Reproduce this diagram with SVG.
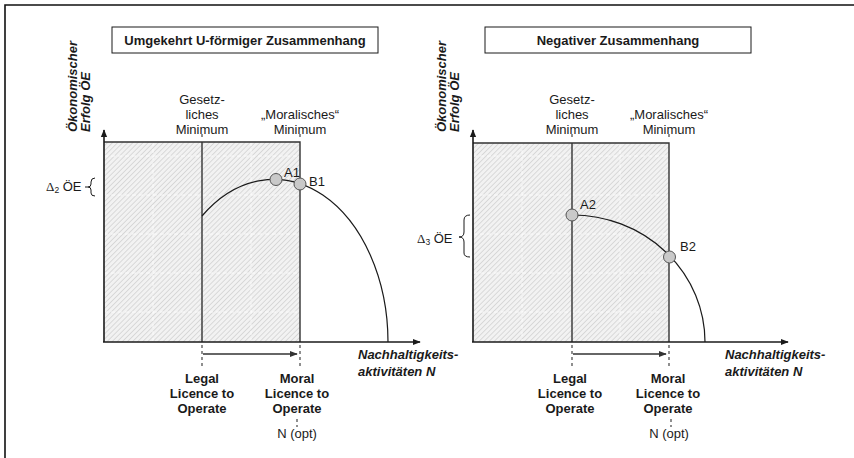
<svg xmlns="http://www.w3.org/2000/svg" width="854" height="458" viewBox="0 0 854 458">
  <style>
    .t { font-family: "Liberation Sans", Arial, sans-serif; fill: #1a1a1a; }
    .reg { font-size: 13px; }
    .bold { font-size: 13px; font-weight: bold; }
    .bi { font-size: 13px; font-weight: bold; font-style: italic; }
    .axis { stroke: #1a1a1a; stroke-width: 1.6; fill: none; }
    .edge { stroke: #333; stroke-width: 1.4; fill: none; }
    .curve { stroke: #1a1a1a; stroke-width: 1.2; fill: none; }
    .dash { stroke: #333; stroke-width: 1.1; stroke-dasharray: 3 3; fill: none; }
    .grid { stroke: #ffffff; stroke-width: 1; stroke-dasharray: 4 3; opacity: 0.8; }
    .pt { fill: #c9c9c9; stroke: #555; stroke-width: 1; }
    .brace { stroke: #1a1a1a; stroke-width: 1; fill: none; }
    .box { fill: #fff; stroke: #1a1a1a; stroke-width: 1; }
  </style>
  <defs>
    <pattern id="hatch" patternUnits="userSpaceOnUse" width="3.6" height="3.6" patternTransform="rotate(45)">
      <rect width="3.6" height="3.6" fill="#f2f2f2"/>
      <line x1="0" y1="0" x2="0" y2="3.6" stroke="#c4c4c4" stroke-width="1.1"/>
    </pattern>
    <marker id="ah" viewBox="0 0 10 10" refX="9" refY="5" markerWidth="8" markerHeight="8" markerUnits="userSpaceOnUse" orient="auto">
      <path d="M0,1 L10,5 L0,9 Z" fill="#1a1a1a"/>
    </marker>
    <marker id="ahs" viewBox="0 0 10 10" refX="9" refY="5" markerWidth="8" markerHeight="8" markerUnits="userSpaceOnUse" orient="auto">
      <path d="M0,1 L10,5 L0,9 Z" fill="#333"/>
    </marker>
  </defs>

  <!-- outer frame (top and left edges) -->
  <path d="M5 458 L5 5 L854 5" fill="none" stroke="#111" stroke-width="1.6"/>

  <!-- ===== left chart: inverted U ===== -->
  <g id="title-left">
    <rect class="box" x="112" y="27" width="266" height="26"/>
    <text class="t bold" x="245" y="45" text-anchor="middle">Umgekehrt U-förmiger Zusammenhang</text>
  </g>

  <g id="area-left">
    <rect x="104" y="142" width="196" height="200" fill="url(#hatch)"/>
    <g class="grid">
      <line x1="104" y1="156" x2="300" y2="156"/>
      <line x1="104" y1="195" x2="300" y2="195"/>
      <line x1="104" y1="234" x2="300" y2="234"/>
      <line x1="104" y1="273" x2="300" y2="273"/>
      <line x1="104" y1="312" x2="300" y2="312"/>
      <line x1="153" y1="142" x2="153" y2="342"/>
      <line x1="251" y1="142" x2="251" y2="342"/>
    </g>
    <path class="edge" d="M104 142 H300 V342"/>
    <line class="edge" x1="202" y1="142" x2="202" y2="342"/>
  </g>

  <g id="axes-left">
    <line class="axis" x1="104" y1="342" x2="104" y2="130" marker-end="url(#ah)"/>
    <line class="axis" x1="103" y1="342" x2="420" y2="342" marker-end="url(#ah)"/>
  </g>

  <g id="ylabel-left">
    <text class="t bi" transform="translate(77,132) rotate(-90)" font-size="11.3">Ökonomischer</text>
    <text class="t bi" transform="translate(90,132) rotate(-90)" font-size="11.3">Erfolg ÖE</text>
  </g>

  <g id="min-labels-left">
    <text class="t reg" text-anchor="middle" x="202" y="104">Gesetz-</text>
    <text class="t reg" text-anchor="middle" x="202" y="119">liches</text>
    <text class="t reg" text-anchor="middle" x="202" y="134">Minimum</text>
    <text class="t reg" text-anchor="middle" x="300" y="119">„Moralisches“</text>
    <text class="t reg" text-anchor="middle" x="300" y="134">Minimum</text>
    <line class="dash" x1="202" y1="134" x2="202" y2="140" stroke-dasharray="2 2"/>
    <line class="dash" x1="300" y1="134" x2="300" y2="140" stroke-dasharray="2 2"/>
  </g>

  <g id="curve-left">
    <path class="curve" d="M202 216 A114 163 0 0 1 388 342"/>
  </g>

  <g id="point-A1">
    <circle class="pt" cx="276" cy="179.5" r="6"/>
    <text class="t reg" x="284" y="177">A1</text>
  </g>
  <g id="point-B1">
    <circle class="pt" cx="300" cy="184" r="6"/>
    <text class="t reg" x="309" y="186">B1</text>
  </g>

  <g id="delta-left">
    <text class="t" font-size="13" x="46" y="191"><tspan font-family="Liberation Serif, serif">Δ</tspan><tspan font-size="8.5" dy="2">2</tspan><tspan dy="-2"> ÖE</tspan></text>
    <path class="brace" d="M85 187 H88"/>
    <path class="brace" d="M95 178 Q91 178 91 182 L91 184 Q91 187 88 187 Q91 187 91 190 L91 193 Q91 196 95 196"/>
  </g>

  <g id="licence-left">
    <line class="dash" x1="202" y1="345" x2="202" y2="366"/>
    <line class="dash" x1="300" y1="345" x2="300" y2="366"/>
    <line x1="203" y1="354" x2="297" y2="354" stroke="#333" stroke-width="1.3" marker-end="url(#ahs)"/>
    <text class="t bold" text-anchor="middle" x="202" y="383">Legal</text>
    <text class="t bold" text-anchor="middle" x="202" y="398">Licence to</text>
    <text class="t bold" text-anchor="middle" x="202" y="413">Operate</text>
    <text class="t bold" text-anchor="middle" x="297" y="383">Moral</text>
    <text class="t bold" text-anchor="middle" x="297" y="398">Licence to</text>
    <text class="t bold" text-anchor="middle" x="297" y="413">Operate</text>
    <line class="dash" x1="297" y1="419" x2="297" y2="427" stroke-dasharray="2 2"/>
    <text class="t reg" text-anchor="middle" x="297" y="438">N (opt)</text>
  </g>

  <g id="xlabel-left">
    <text class="t bi" x="358" y="359">Nachhaltigkeits-</text>
    <text class="t bi" x="358" y="376">aktivitäten N</text>
  </g>

  <!-- ===== right chart: negative relation ===== -->
  <g id="title-right">
    <rect class="box" x="485" y="27" width="266" height="26"/>
    <text class="t bold" x="618" y="45" text-anchor="middle">Negativer Zusammenhang</text>
  </g>

  <g id="area-right">
    <rect x="473" y="143" width="196" height="199" fill="url(#hatch)"/>
    <g class="grid">
      <line x1="473" y1="156" x2="669" y2="156"/>
      <line x1="473" y1="195" x2="669" y2="195"/>
      <line x1="473" y1="234" x2="669" y2="234"/>
      <line x1="473" y1="273" x2="669" y2="273"/>
      <line x1="473" y1="312" x2="669" y2="312"/>
      <line x1="522" y1="143" x2="522" y2="342"/>
      <line x1="620" y1="143" x2="620" y2="342"/>
    </g>
    <path class="edge" d="M473 143 H669 V342"/>
    <line class="edge" x1="572" y1="143" x2="572" y2="342"/>
  </g>

  <g id="axes-right">
    <line class="axis" x1="473" y1="342" x2="473" y2="130" marker-end="url(#ah)"/>
    <line class="axis" x1="472" y1="342" x2="788" y2="342" marker-end="url(#ah)"/>
  </g>

  <g id="ylabel-right">
    <text class="t bi" transform="translate(446,132) rotate(-90)" font-size="11.3">Ökonomischer</text>
    <text class="t bi" transform="translate(459,132) rotate(-90)" font-size="11.3">Erfolg ÖE</text>
  </g>

  <g id="min-labels-right">
    <text class="t reg" text-anchor="middle" x="572" y="104">Gesetz-</text>
    <text class="t reg" text-anchor="middle" x="572" y="119">liches</text>
    <text class="t reg" text-anchor="middle" x="572" y="134">Minimum</text>
    <text class="t reg" text-anchor="middle" x="669" y="119">„Moralisches“</text>
    <text class="t reg" text-anchor="middle" x="669" y="134">Minimum</text>
    <line class="dash" x1="572" y1="134" x2="572" y2="140" stroke-dasharray="2 2"/>
    <line class="dash" x1="669" y1="134" x2="669" y2="140" stroke-dasharray="2 2"/>
  </g>

  <g id="curve-right">
    <path class="curve" d="M572 215 A133 127 0 0 1 705 342"/>
  </g>

  <g id="point-A2">
    <circle class="pt" cx="572" cy="215" r="6"/>
    <text class="t reg" x="580" y="209">A2</text>
  </g>
  <g id="point-B2">
    <circle class="pt" cx="669.5" cy="257" r="6"/>
    <text class="t reg" x="680" y="251">B2</text>
  </g>

  <g id="delta-right">
    <text class="t" font-size="13" x="417" y="243"><tspan font-family="Liberation Serif, serif">Δ</tspan><tspan font-size="8.5" dy="2">3</tspan><tspan dy="-2"> ÖE</tspan></text>
    <path class="brace" d="M470 215 Q464 215 464 220 L464 232 Q464 237 459 237 Q464 237 464 242 L464 253 Q464 257 470 257"/>
  </g>

  <g id="licence-right">
    <line class="dash" x1="572" y1="345" x2="572" y2="366"/>
    <line class="dash" x1="669" y1="345" x2="669" y2="366"/>
    <line x1="573" y1="354" x2="666" y2="354" stroke="#333" stroke-width="1.3" marker-end="url(#ahs)"/>
    <text class="t bold" text-anchor="middle" x="570" y="383">Legal</text>
    <text class="t bold" text-anchor="middle" x="570" y="398">Licence to</text>
    <text class="t bold" text-anchor="middle" x="570" y="413">Operate</text>
    <text class="t bold" text-anchor="middle" x="668" y="383">Moral</text>
    <text class="t bold" text-anchor="middle" x="668" y="398">Licence to</text>
    <text class="t bold" text-anchor="middle" x="668" y="413">Operate</text>
    <line class="dash" x1="671" y1="419" x2="671" y2="427" stroke-dasharray="2 2"/>
    <text class="t reg" text-anchor="middle" x="669" y="438">N (opt)</text>
  </g>

  <g id="xlabel-right">
    <text class="t bi" x="725" y="359">Nachhaltigkeits-</text>
    <text class="t bi" x="725" y="376">aktivitäten N</text>
  </g>
</svg>
